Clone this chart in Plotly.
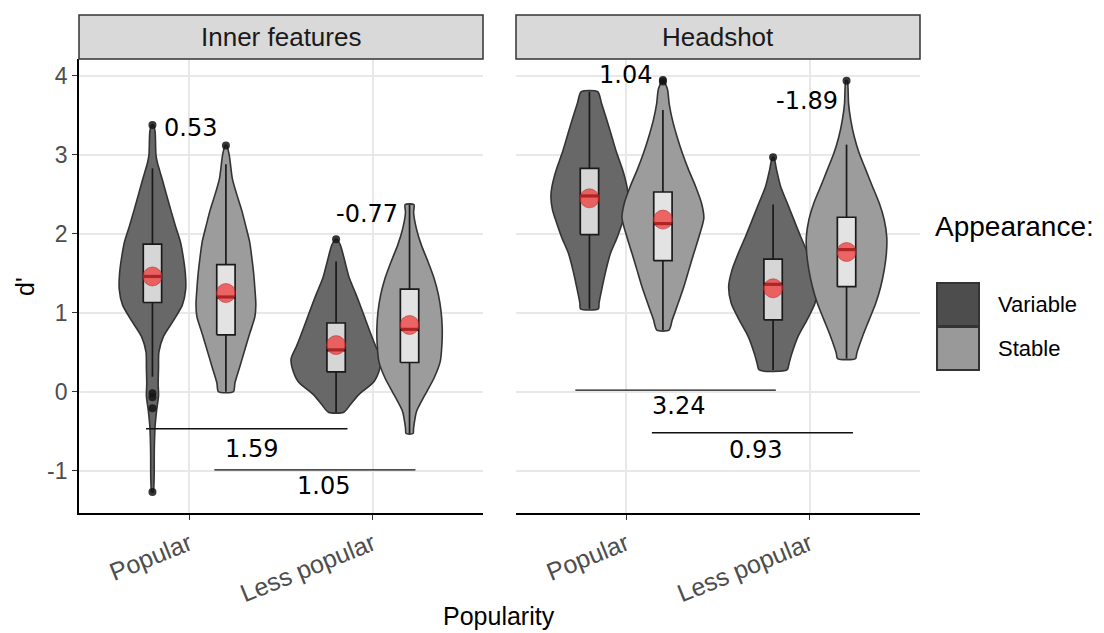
import plotly.graph_objects as go

# ---------------- data ----------------
categories = ["Popular", "Less popular"]
panels = ["Inner features", "Headshot"]
appearance = ["Variable", "Stable"]
y_ticks = [-1, 0, 1, 2, 3, 4]
y_tick_text = ["-1", "0", "1", "2", "3", "4"]

# violin outlines: y levels (ascending) and half-widths (x units)
inner_pop_var_y = [-1.27, -1.1, -0.75, -0.45, -0.25, -0.05, 0.1, 0.3, 0.5, 0.7, 0.9, 1.1, 1.3, 1.5, 1.7, 1.9, 2.1, 2.3, 2.5, 2.7, 2.9, 3.0, 3.3, 3.38]
inner_pop_var_w = [0.004, 0.009, 0.01, 0.014, 0.022, 0.033, 0.031, 0.033, 0.035, 0.06, 0.114, 0.163, 0.181, 0.179, 0.168, 0.152, 0.125, 0.10, 0.076, 0.052, 0.027, 0.019, 0.014, 0.004]
inner_pop_sta_y = [0.0, 0.11, 0.32, 0.53, 0.74, 0.95, 1.1, 1.3, 1.5, 1.7, 1.9, 2.1, 2.3, 2.5, 2.7, 3.0, 3.12]
inner_pop_sta_w = [0.041, 0.049, 0.076, 0.103, 0.13, 0.158, 0.163, 0.158, 0.151, 0.141, 0.129, 0.108, 0.086, 0.059, 0.035, 0.018, 0.004]
inner_less_var_y = [-0.26, -0.17, -0.04, 0.13, 0.30, 0.42, 0.59, 0.80, 1.01, 1.23, 1.44, 1.65, 1.86, 1.93]
inner_less_var_w = [0.042, 0.076, 0.122, 0.207, 0.239, 0.245, 0.213, 0.178, 0.145, 0.109, 0.072, 0.048, 0.023, 0.004]
inner_less_sta_y = [-0.53, -0.46, -0.25, -0.04, 0.17, 0.38, 0.59, 0.80, 1.01, 1.23, 1.44, 1.65, 1.86, 2.06, 2.27, 2.37]
inner_less_sta_w = [0.019, 0.022, 0.038, 0.084, 0.133, 0.167, 0.176, 0.178, 0.172, 0.157, 0.133, 0.10, 0.064, 0.038, 0.022, 0.024]
head_pop_var_y = [1.05, 1.12, 1.33, 1.54, 1.75, 1.96, 2.18, 2.30, 2.47, 2.60, 2.81, 3.02, 3.23, 3.44, 3.65, 3.80]
head_pop_var_w = [0.049, 0.052, 0.07, 0.09, 0.114, 0.152, 0.185, 0.201, 0.21, 0.204, 0.181, 0.149, 0.122, 0.095, 0.066, 0.045]
head_pop_sta_y = [0.78, 0.91, 1.12, 1.33, 1.54, 1.75, 1.96, 2.20, 2.39, 2.60, 2.81, 3.02, 3.23, 3.44, 3.65, 3.83, 3.94]
head_pop_sta_w = [0.033, 0.051, 0.083, 0.114, 0.141, 0.168, 0.196, 0.223, 0.21, 0.178, 0.14, 0.106, 0.077, 0.052, 0.034, 0.025, 0.004]
head_less_var_y = [0.275, 0.36, 0.49, 0.70, 0.91, 1.12, 1.33, 1.54, 1.75, 1.96, 2.18, 2.39, 2.60, 2.81, 2.97]
head_less_var_w = [0.076, 0.087, 0.103, 0.136, 0.185, 0.228, 0.242, 0.224, 0.19, 0.151, 0.113, 0.077, 0.041, 0.019, 0.004]
head_less_sta_y = [0.42, 0.49, 0.70, 0.91, 1.12, 1.33, 1.54, 1.75, 1.96, 2.18, 2.39, 2.60, 2.81, 3.02, 3.23, 3.44, 3.65, 3.85, 3.94]
head_less_sta_w = [0.049, 0.056, 0.087, 0.123, 0.159, 0.186, 0.205, 0.217, 0.219, 0.205, 0.178, 0.141, 0.105, 0.069, 0.042, 0.023, 0.011, 0.008, 0.004]

# group order: panel, category, appearance
group_panel = [0, 0, 0, 0, 1, 1, 1, 1]
group_cat = [1, 1, 2, 2, 1, 1, 2, 2]
group_app = [0, 1, 0, 1, 0, 1, 0, 1]
q1 = [1.13, 0.72, 0.25, 0.37, 1.99, 1.66, 0.91, 1.33]
median = [1.46, 1.20, 0.53, 0.79, 2.48, 2.13, 1.36, 1.80]
q3 = [1.87, 1.61, 0.87, 1.30, 2.83, 2.53, 1.68, 2.21]
whisker_lo = [0.19, 0.0, -0.26, -0.53, 1.05, 0.78, 0.275, 0.42]
whisker_hi = [2.83, 2.88, 1.65, 2.37, 3.80, 3.57, 2.37, 3.13]
means = [1.46, 1.25, 0.59, 0.845, 2.45, 2.18, 1.31, 1.77]
outliers = [[3.38, -0.02, -0.07, -0.21, -1.27], [3.12], [1.93], [], [], [3.93, 3.95], [2.97], [3.94]]

# effect-size annotations
diff_labels = [["0.53", "-0.77", "1.59", "1.05"], ["1.04", "-1.89", "3.24", "0.93"]]
diff_x = [[1.005, 1.967, 1.34, 1.73], [0.995, 1.984, 1.284, 1.705]]
diff_y = [[3.34, 2.25, -0.73, -1.19], [4.01, 3.68, -0.18, -0.74]]
bar_x0 = [[0.765, 1.137], [0.723, 1.14]]
bar_x1 = [[1.862, 2.232], [1.815, 2.235]]
bar_y = [[-0.47, -0.99], [0.02, -0.52]]

violin_ys = [inner_pop_var_y, inner_pop_sta_y, inner_less_var_y, inner_less_sta_y,
             head_pop_var_y, head_pop_sta_y, head_less_var_y, head_less_sta_y]
violin_ws = [inner_pop_var_w, inner_pop_sta_w, inner_less_var_w, inner_less_sta_w,
             head_pop_var_w, head_pop_sta_w, head_less_var_w, head_less_sta_w]

# ---------------- styling ----------------
W, H = 1104, 633
DODGE = 0.2
BOXW = 0.05
violin_fill = ["#686868", "#9c9c9c"]
box_fill = ["#d6d6d6", "#e3e3e3"]
key_fill = ["#4d4d4d", "#999999"]
outline = "#333333"
FONT = "Liberation Sans, Arial, sans-serif"
NUMFONT = "DejaVu Sans, Verdana, sans-serif"


def px(x):
    return x / W


def py(y):
    return 1 - y / H


fig = go.Figure()
xrefs = ["x", "x2"]
yrefs = ["y", "y2"]

# violins
for g in range(8):
    c = group_cat[g] + (-DODGE if group_app[g] == 0 else DODGE)
    ys = violin_ys[g]
    ws = violin_ws[g]
    xs = [c + w for w in ws] + [c - w for w in reversed(ws)] + [c + ws[0]]
    yy = list(ys) + list(reversed(ys)) + [ys[0]]
    fig.add_trace(go.Scatter(x=xs, y=yy, mode="lines", fill="toself",
                             fillcolor=violin_fill[group_app[g]],
                             line=dict(color=outline, width=1.6, shape="spline", smoothing=0.7),
                             xaxis=xrefs[group_panel[g]], yaxis=yrefs[group_panel[g]],
                             showlegend=False, hoverinfo="skip"))

# boxes
for g in range(8):
    c = group_cat[g] + (-DODGE if group_app[g] == 0 else DODGE)
    xa, ya = xrefs[group_panel[g]], yrefs[group_panel[g]]
    fig.add_trace(go.Scatter(x=[c, c, None, c, c], y=[whisker_lo[g], q1[g], None, q3[g], whisker_hi[g]],
                             mode="lines", line=dict(color="#1a1a1a", width=1.7),
                             xaxis=xa, yaxis=ya, showlegend=False, hoverinfo="skip"))
    fig.add_trace(go.Scatter(x=[c - BOXW, c + BOXW, c + BOXW, c - BOXW, c - BOXW],
                             y=[q1[g], q1[g], q3[g], q3[g], q1[g]],
                             mode="lines", fill="toself", fillcolor=box_fill[group_app[g]],
                             line=dict(color="#1a1a1a", width=1.7),
                             xaxis=xa, yaxis=ya, showlegend=False, hoverinfo="skip"))
    fig.add_trace(go.Scatter(x=[c - BOXW, c + BOXW], y=[median[g], median[g]],
                             mode="lines", line=dict(color="#111111", width=3.2),
                             xaxis=xa, yaxis=ya, showlegend=False, hoverinfo="skip"))
    if outliers[g]:
        fig.add_trace(go.Scatter(x=[c] * len(outliers[g]), y=outliers[g], mode="markers",
                                 marker=dict(color="rgba(20,20,20,0.85)", size=8, line=dict(width=0)),
                                 xaxis=xa, yaxis=ya, showlegend=False, hoverinfo="skip"))
    fig.add_trace(go.Scatter(x=[c], y=[means[g]], mode="markers",
                             marker=dict(color="rgba(240,45,45,0.7)", size=19,
                                         line=dict(color="rgba(170,40,40,0.5)", width=1)),
                             xaxis=xa, yaxis=ya, showlegend=False, hoverinfo="skip"))

shapes = []
annotations = []

for p in range(2):
    for k in range(2):
        shapes.append(dict(type="line", xref=xrefs[p], yref=yrefs[p],
                           x0=bar_x0[p][k], x1=bar_x1[p][k], y0=bar_y[p][k], y1=bar_y[p][k],
                           line=dict(color="#111111", width=1.4)))
    for k in range(4):
        annotations.append(dict(xref=xrefs[p], yref=yrefs[p], x=diff_x[p][k], y=diff_y[p][k],
                                text=diff_labels[p][k], showarrow=False,
                                font=dict(family=NUMFONT, size=24, color="black"),
                                xanchor="center", yanchor="middle"))

strip_x = [(79, 483), (516, 920)]
for p in range(2):
    x0, x1 = strip_x[p]
    shapes.append(dict(type="rect", xref="paper", yref="paper", x0=px(x0), x1=px(x1), y0=py(59), y1=py(15),
                       fillcolor="#d9d9d9", line=dict(color=outline, width=1.5), layer="above"))
    annotations.append(dict(xref="paper", yref="paper", x=px((x0 + x1) / 2), y=py(37), text=panels[p],
                            showarrow=False, font=dict(family=FONT, size=26, color="#1a1a1a"),
                            xanchor="center", yanchor="middle"))

annotations.append(dict(xref="paper", yref="paper", x=px(499), y=py(616), text="Popularity", showarrow=False,
                        font=dict(family=FONT, size=25, color="black"), xanchor="center", yanchor="middle"))
annotations.append(dict(xref="paper", yref="paper", x=px(25), y=py(287), text="d'", showarrow=False, textangle=-90,
                        font=dict(family=FONT, size=25, color="black"), xanchor="center", yanchor="middle"))

annotations.append(dict(xref="paper", yref="paper", x=px(933), y=py(226), text="Appearance:", showarrow=False,
                        font=dict(family=FONT, size=28, color="black"), xanchor="left", yanchor="middle"))
key_y = [(283, 326), (327, 370)]
for i in range(2):
    ky0, ky1 = key_y[i]
    shapes.append(dict(type="rect", xref="paper", yref="paper", x0=px(937), x1=px(979), y0=py(ky1), y1=py(ky0),
                       fillcolor=key_fill[i], line=dict(color=outline, width=2)))
    annotations.append(dict(xref="paper", yref="paper", x=px(996), y=py((ky0 + ky1) / 2), text=appearance[i],
                            showarrow=False, font=dict(family=FONT, size=22, color="black"),
                            xanchor="left", yanchor="middle"))

yrange = [-1.537, 4.215]
ydom = [py(513), py(59)]
common_x = dict(range=[0.4, 2.6], tickvals=[1, 2], ticktext=categories, tickangle=-22,
                showgrid=True, gridcolor="#e8e8e8", gridwidth=1.8, zeroline=False,
                showline=True, linecolor="black", linewidth=1.8,
                ticks="outside", ticklen=5, tickcolor="#333333", tickwidth=1.3,
                tickfont=dict(family=FONT, size=25, color="#4d4d4d"), fixedrange=True)
common_y = dict(range=yrange, domain=ydom, tickvals=y_ticks, ticktext=y_tick_text,
                showgrid=True, gridcolor="#e8e8e8", gridwidth=1.8, zeroline=False, fixedrange=True)

fig.update_layout(
    width=W, height=H, margin=dict(l=0, r=0, t=0, b=0),
    paper_bgcolor="white", plot_bgcolor="white", showlegend=False,
    xaxis=dict(domain=[px(79), px(483)], anchor="y", **common_x),
    xaxis2=dict(domain=[px(516), px(920)], anchor="y2", **common_x),
    yaxis=dict(anchor="x", showline=True, linecolor="black", linewidth=1.8,
               ticks="outside", ticklen=5, tickcolor="#333333", tickwidth=1.3,
               tickfont=dict(family=FONT, size=23, color="#4d4d4d"), **common_y),
    yaxis2=dict(anchor="x2", showline=False, showticklabels=False, ticks="", **common_y),
    shapes=shapes, annotations=annotations,
)

fig.write_html("out.html")
